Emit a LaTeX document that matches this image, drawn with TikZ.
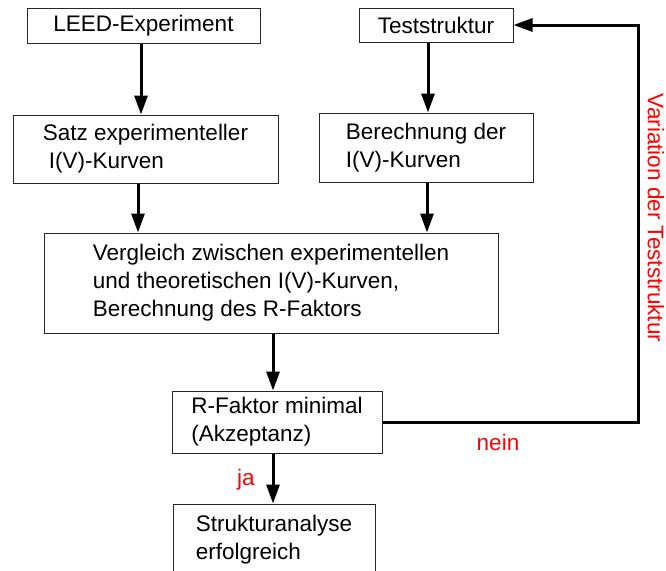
\documentclass[tikz,border=0pt]{standalone}
\usepackage{fontspec}
\setmainfont{Liberation Sans}
\usetikzlibrary{arrows.meta}
\tikzset{
  box/.style={draw=black!85, line width=1pt, align=left, inner sep=2pt},
  flow/.style={line width=3pt, -{Triangle[length=19pt,width=13pt]}},
  answer/.style={text=red},
}
\begin{document}
\begin{tikzpicture}[x=1pt, y=-1pt, font=\fontsize{22.5}{28}\selectfont]
    \clip (0,0) rectangle (666,570);
    % Experiment (left)
    \node[box, minimum width=233pt, minimum height=35pt] (leed) at (143.5,25.5) {LEED-Experiment};
    \node[box, minimum width=265pt, minimum height=68pt] (satz) at (145.5,149) {Satz experimenteller\\\hspace*{6pt}I(V)-Kurven};
    % Theory (right)
    \node[box, minimum width=154pt, minimum height=34pt] (test) at (436,25) {Teststruktur};
    \node[box, minimum width=214pt, minimum height=69pt] (calc) at (426,147.5) {Berechnung der\\I(V)-Kurven};
    % Comparison and decision
    \node[box, minimum width=454pt, minimum height=100pt] (vergleich) at (271,283) {Vergleich zwischen experimentellen\\und theoretischen I(V)-Kurven,\\Berechnung des R-Faktors};
    \node[box, minimum width=210pt, minimum height=62pt] (rfaktor) at (277,422) {R-Faktor minimal\\(Akzeptanz)};
    \node[box, minimum width=202pt, minimum height=72pt] (erfolg) at (274,540) {Strukturanalyse\\erfolgreich};
    % Flow arrows
    \draw[flow] ([xshift=-2.5pt]leed.south) -- ([xshift=-4.5pt]satz.north);
    \draw[flow] ([xshift=-8pt]test.south) -- ([xshift=2pt]calc.north);
    \draw[flow] ([xshift=-7.5pt]satz.south) -- ([xshift=-133pt]vergleich.north);
    \draw[flow] ([xshift=1pt]calc.south) -- ([xshift=156pt]vergleich.north);
    \draw[flow] ([xshift=2pt]vergleich.south) -- ([xshift=-4pt]rfaktor.north);
    \draw[flow] ([xshift=-4pt]rfaktor.south) -- ([xshift=-1pt]erfolg.north);
    % Feedback loop
    \draw[flow] (rfaktor.east) -| ([xshift=125pt]test.east) -- (test.east);
    % Labels
    \node[answer] (ja) at (246,480) {ja};
    \node[answer] (nein) at (498,442) {nein};
    \node[answer, rotate=-90] (variation) at (656,218) {Variation der Teststruktur};
\end{tikzpicture}
\end{document}
